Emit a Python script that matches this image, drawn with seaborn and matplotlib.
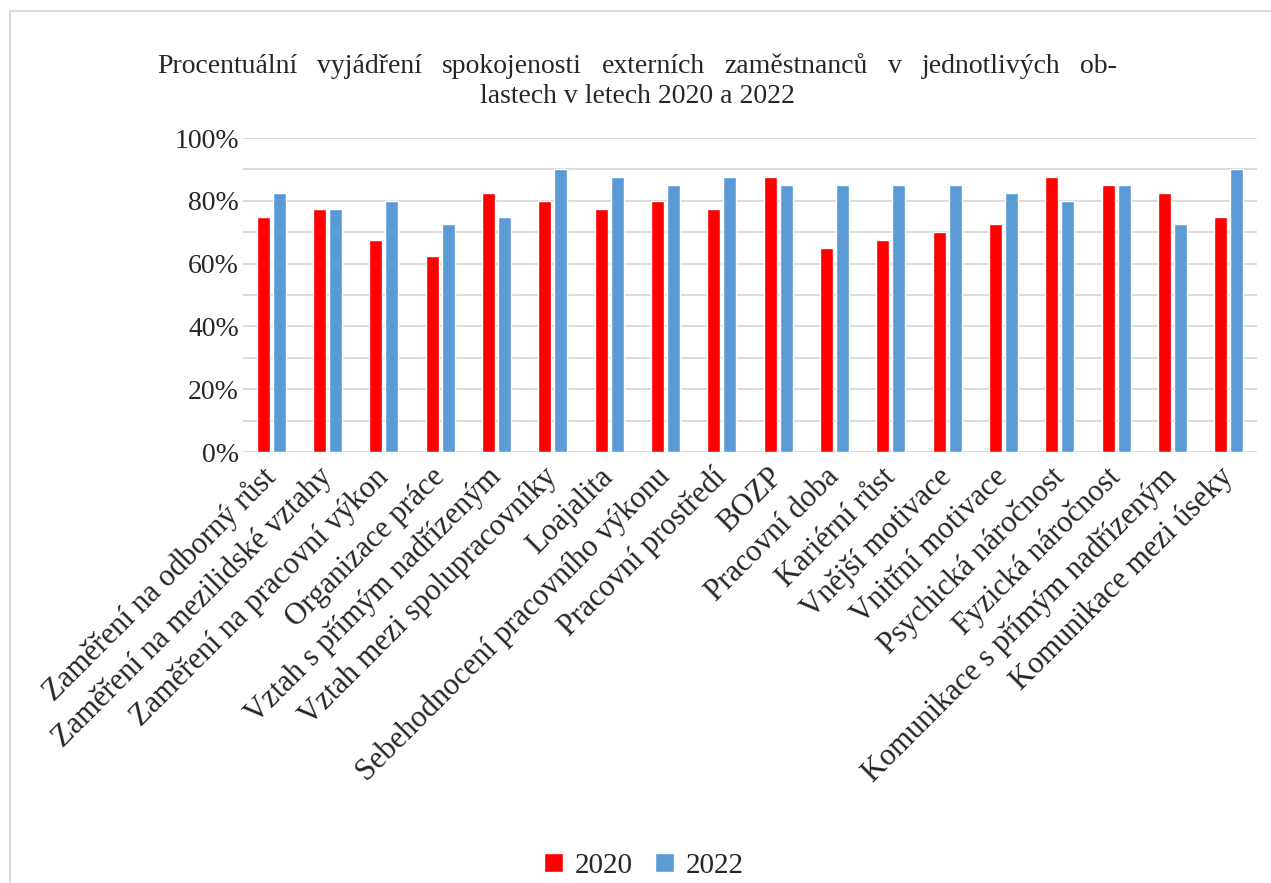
import matplotlib
matplotlib.use("Agg")
import matplotlib.pyplot as plt
from matplotlib.patches import Rectangle
from matplotlib.ticker import MultipleLocator, PercentFormatter
import pandas as pd
import seaborn as sns

categories = [
    "Zaměření na odborný růst",
    "Zaměření na mezilidské vztahy",
    "Zaměření na pracovní výkon",
    "Organizace práce",
    "Vztah s přímým nadřízeným",
    "Vztah mezi spolupracovníky",
    "Loajalita",
    "Sebehodnocení pracovního výkonu",
    "Pracovní prostředí",
    "BOZP",
    "Pracovní doba",
    "Kariérní růst",
    "Vnější motivace",
    "Vnitřní motivace",
    "Psychická náročnost",
    "Fyzická náročnost",
    "Komunikace s přímým nadřízeným",
    "Komunikace mezi úseky",
]
values_2020 = [75, 77.5, 67.5, 62.5, 82.5, 80, 77.5, 80, 77.5, 87.5,
               65, 67.5, 70, 72.5, 87.5, 85, 82.5, 75]
values_2022 = [82.5, 77.5, 80, 72.5, 75, 90, 87.5, 85, 87.5, 85,
               85, 85, 85, 82.5, 80, 85, 72.5, 90]
years = ["2020", "2022"]
colors = {"2020": "#FF0000", "2022": "#5B9BD5"}

title_line1 = "Procentuální vyjádření spokojenosti externích zaměstnanců v jednotlivých ob-"
title_line2 = "lastech v letech 2020 a 2022"

df = pd.DataFrame({
    "oblast": categories * 2,
    "rok": [years[0]] * len(categories) + [years[1]] * len(categories),
    "podil": [v / 100 for v in values_2020 + values_2022],
})

sns.set_theme(style="white")
plt.rcParams["font.family"] = ["Liberation Serif", "DejaVu Serif"]

W, H = 1271, 883
fig = plt.figure(figsize=(W / 100, H / 100), dpi=100)
ax = fig.add_axes([243 / W, 1 - 452 / H, (1257 - 243) / W, (452 - 138) / H])

sns.barplot(data=df, x="oblast", y="podil", hue="rok", palette=colors,
            width=0.57, gap=0.2, saturation=1, ax=ax, legend=True)

ax.set_ylim(0, 1)
ax.set_xlim(-0.5, len(categories) - 0.5)
ax.yaxis.set_major_locator(MultipleLocator(0.2))
ax.yaxis.set_minor_locator(MultipleLocator(0.1))
ax.yaxis.set_major_formatter(PercentFormatter(1.0, decimals=0))
ax.grid(True, which="both", axis="y", color="#d9d9d9", linewidth=1.3)
ax.set_axisbelow(True)
for s in ax.spines.values():
    s.set_visible(False)
ax.tick_params(axis="both", which="both", length=0)
ax.tick_params(axis="y", labelsize=20, pad=3)
ax.set_xlabel("")
ax.set_ylabel("")
ax.set_xticks(range(len(categories)))
ax.set_xticklabels(categories, rotation=45, ha="right", va="center",
                   rotation_mode="anchor", fontsize=22)
ax.tick_params(axis="x", pad=15)

# title: first line justified between fixed margins, second line centred
fig.canvas.draw()
renderer = fig.canvas.get_renderer()
words = title_line1.split(" ")
x_left, x_right = 157, 1117
y1 = 1 - 73 / H
word_texts = [fig.text(0, y1, w, ha="left", va="baseline", fontsize=20) for w in words]
widths = [t.get_window_extent(renderer).width for t in word_texts]
space = (x_right - x_left - sum(widths)) / (len(words) - 1)
x = x_left
for t, w in zip(word_texts, widths):
    t.set_x(x / W)
    x += w + space
fig.text((x_left + x_right) / 2 / W, 1 - 103 / H, title_line2,
         ha="center", va="baseline", fontsize=20)

# legend at the bottom
ax.legend(loc="center", bbox_to_anchor=(644 / W, 1 - 866 / H),
          bbox_transform=fig.transFigure, ncol=2, frameon=False,
          fontsize=21, handlelength=0.65, handleheight=0.65,
          handletextpad=0.4, columnspacing=0.75, borderpad=0)

# chart frame
fig.add_artist(Rectangle((10 / W, -0.05), 1.1, 1 - 11 / H + 0.05,
                         transform=fig.transFigure, fill=False,
                         edgecolor="#d9d9d9", linewidth=1.5))

fig.savefig("out.png", dpi=100, facecolor="white")
